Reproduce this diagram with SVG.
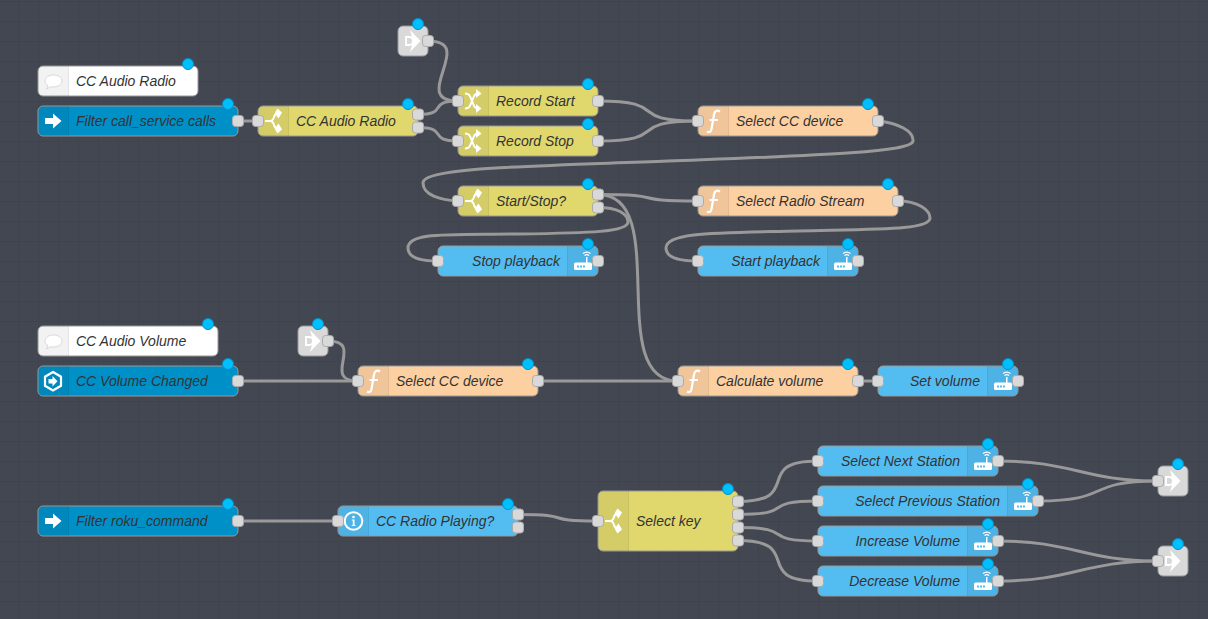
<svg xmlns="http://www.w3.org/2000/svg" width="1208" height="619" viewBox="0 0 1208 619">
<style>
.bg{fill:#434752}
.w{fill:none;stroke:#999;stroke-width:3}
.n{stroke:#999;stroke-width:1}
.c{fill:#fff}.inj{fill:#0090c8}.sw{fill:#e0d76d}.fn{fill:#fdd0a2}.sv{fill:#53bdf1}.lk{fill:#d9d9d9}
.sh{fill:#000;fill-opacity:.05}
.sep{stroke:#000;stroke-opacity:.1;stroke-width:1;fill:none}
.p{fill:#d9d9d9;stroke:#aaa;stroke-width:1}
.d{fill:#00bfff;stroke:#0090c8;stroke-width:1}
.t{font-family:"Liberation Sans",Arial,sans-serif;font-size:14px;font-style:italic;fill:#333}
.e{text-anchor:end}
.i{fill:#fff}
.is{fill:none;stroke:#fff;stroke-width:2}
</style>
<defs>
<pattern id="grid" width="20" height="20" patternUnits="userSpaceOnUse" x="18" y="1">
<path d="M0 .5H20M.5 0V20" fill="none" stroke="#3f434d" stroke-width="1"/>
</pattern>
<rect id="port" class="p" x="-5.500" y="-5.500" width="11" height="11" rx="3"/>
<circle id="dot" class="d" r="5.500"/>
<g id="ic-inj"><path class="i" d="M7 12h8V7.500l8.500 7.500-8.500 7.500V18H7z"/></g>
<g id="ic-cm"><path d="M7 15c0-3.500 4-6 8.500-6S24 11.500 24 15s-4 6-8.500 6c-1 0-2 0-2.800-.3L8.500 23l1.500-3.500C8 18.500 7 17 7 15z" fill="#fff" stroke="#d8d8d8" stroke-width="1"/></g>
<g id="ic-sw"><path class="is" d="M7 15h5c2.500 0 3.500-2 4-4s1.500-3.500 4-4M12 15c2.500 0 3.500 2 4 4s1.500 3.500 4 4" stroke-width="2.400"/><path class="i" d="M19.500 2.500l4.500 4-3.500 6-2-2.500-1.500-3.500zM19.500 27.500l4.500-4-3.500-6-2 2.500-1.500 3.500z"/></g>
<g id="ic-ch"><path class="is" d="M7 7.500c5 0 5 3 7 7.500s2 7.500 6 7.500M7 22.500c5 0 5-3 7-7.500s2-7.500 6-7.500" stroke-width="3"/><path class="i" d="M18 3l5.500 4.500L18 12zM18 18l5.500 4.500L18 27z"/></g>
<g id="ic-fn"><path d="M22 5.500c-3-1.800-5.500-.5-6 3l-2.500 14.500c-.5 3-2.500 3.800-4.500 2.500M11.500 14h8.500" fill="none" stroke="#fff" stroke-width="2.200"/></g>
<g id="ic-sv"><rect class="i" x="6" y="16.500" width="18" height="7.500" rx="1.500"/><rect class="i" x="18" y="11" width="1.500" height="6"/><path d="M9 19.500h2v2H9zM12 19.500h2v2h-2zM15 19.500h2v2h-2z" fill="#53bdf1"/><path d="M16.500 9.500q2.300-1.800 4.500 0M15 7.500q3.700-2.800 7.500 0" fill="none" stroke="#fff" stroke-width="1.200"/></g>
<g id="ic-lk"><path class="i" d="M12 4L22.500 15 12 26 14 19 14 11z"/><path d="M8 11h3c2.500 0 4 1.800 4 4s-1.500 4-4 4H8z" fill="#d9d9d9" stroke="#fff" stroke-width="1.800"/></g>
<g id="ic-in"><circle cx="15.500" cy="15" r="8.800" fill="none" stroke="#fff" stroke-width="2"/><circle cx="15.500" cy="11" r="1.300" class="i"/><path class="i" d="M13.800 13.500h2.700v5.500h1v1h-3.700v-1h1v-4.500h-1z"/></g>
<g id="ic-hex"><path d="M15 6l8 4.700v9.100l-8 4.700-8-4.700v-9.100z" fill="none" stroke="#fff" stroke-width="2.200"/><path class="i" d="M10.500 13h4v-3l5 5.200-5 5.200v-3h-4z"/></g>
</defs>
<rect class="bg" width="1208" height="619"/>
<rect fill="url(#grid)" width="1208" height="619"/>
<g id="connectors">
<path class="w" d="M238 121H258"/>
<path class="w" d="M418 114.500C449.500 114.500 426.500 101 458 101"/>
<path class="w" d="M418 127.500C449.500 127.500 426.500 141 458 141"/>
<path class="w" d="M428 41C478 41 408 101 458 101"/>
<path class="w" d="M598 101C673 101 623 121 698 121"/>
<path class="w" d="M598 141C673 141 623 121 698 121"/>
<path class="w" d="M878 121C898 123 914 131 913 141C912 153 800 156 668 161C540 166 423 167 423 183C423 195 440 200 458 201"/>
<path class="w" d="M598 194.500C673 194.500 623 201 698 201"/>
<path class="w" d="M598 194.500C673 194.500 603 381 678 381"/>
<path class="w" d="M598 207.500C618 207.500 628 214 628 222C628 232 590 233 518 234C446 235 408 232 408 248C408 257 420 261 438 261"/>
<path class="w" d="M898 201C918 201 930 210 930 218C930 230 880 229 798 231C716 233 666 232 666 248C666 257 678 261 698 261"/>
<path class="w" d="M238 381H358"/>
<path class="w" d="M328 341C365.500 341 320.500 381 358 381"/>
<path class="w" d="M538 381H678"/>
<path class="w" d="M858 381H878"/>
<path class="w" d="M238 521H338"/>
<path class="w" d="M518 514.500C578 514.500 538 521 598 521"/>
<path class="w" d="M738 501.500C805 501.500 751 461 818 461"/>
<path class="w" d="M738 514.500C799 514.500 757 501 818 501"/>
<path class="w" d="M738 527.500C799 527.500 757 541 818 541"/>
<path class="w" d="M738 540.500C805 540.500 751 581 818 581"/>
<path class="w" d="M998 461C1073 461 1083 481 1158 481"/>
<path class="w" d="M1038 501C1113 501 1083 481 1158 481"/>
<path class="w" d="M998 541C1073 541 1083 561 1158 561"/>
<path class="w" d="M998 581C1073 581 1083 561 1158 561"/>
</g>
<g id="nodes">
<g id="comment-radio" transform="translate(38 66)"><rect class="n c" width="160" height="30" rx="5"/><path class="sh" d="M5 0H30V30H5A5 5 0 0 1 0 25V5A5 5 0 0 1 5 0Z"/><path class="sep" d="M30.500 0V30"/><use href="#ic-cm"/><text class="t" x="38" y="20">CC Audio Radio</text><use href="#dot" x="150" y="-2"/></g>
<g id="filter-call" transform="translate(38 106)"><rect class="n inj" width="200" height="30" rx="5"/><path class="sh" d="M5 0H30V30H5A5 5 0 0 1 0 25V5A5 5 0 0 1 5 0Z"/><path class="sep" d="M30.500 0V30"/><use href="#ic-inj"/><text class="t" x="38" y="20">Filter call_service calls</text><use href="#port" x="200" y="15"/><use href="#dot" x="190" y="-2"/></g>
<g id="switch-radio" transform="translate(258 106)"><rect class="n sw" width="160" height="30" rx="5"/><path class="sh" d="M5 0H30V30H5A5 5 0 0 1 0 25V5A5 5 0 0 1 5 0Z"/><path class="sep" d="M30.500 0V30"/><use href="#ic-sw"/><text class="t" x="38" y="20">CC Audio Radio</text><use href="#port" x="0" y="15"/><use href="#port" x="160" y="8.500"/><use href="#port" x="160" y="21.500"/><use href="#dot" x="150" y="-2"/></g>
<g id="link-top" transform="translate(398 26)"><rect class="n lk" width="30" height="30" rx="5"/><use href="#ic-lk"/><use href="#port" x="30" y="15"/><use href="#dot" x="20" y="-2"/></g>
<g id="record-start" transform="translate(458 86)"><rect class="n sw" width="140" height="30" rx="5"/><path class="sh" d="M5 0H30V30H5A5 5 0 0 1 0 25V5A5 5 0 0 1 5 0Z"/><path class="sep" d="M30.500 0V30"/><use href="#ic-ch"/><text class="t" x="38" y="20">Record Start</text><use href="#port" x="0" y="15"/><use href="#port" x="140" y="15"/><use href="#dot" x="130" y="-2"/></g>
<g id="record-stop" transform="translate(458 126)"><rect class="n sw" width="140" height="30" rx="5"/><path class="sh" d="M5 0H30V30H5A5 5 0 0 1 0 25V5A5 5 0 0 1 5 0Z"/><path class="sep" d="M30.500 0V30"/><use href="#ic-ch"/><text class="t" x="38" y="20">Record Stop</text><use href="#port" x="0" y="15"/><use href="#port" x="140" y="15"/><use href="#dot" x="130" y="-2"/></g>
<g id="select-cc-1" transform="translate(698 106)"><rect class="n fn" width="180" height="30" rx="5"/><path class="sh" d="M5 0H30V30H5A5 5 0 0 1 0 25V5A5 5 0 0 1 5 0Z"/><path class="sep" d="M30.500 0V30"/><use href="#ic-fn"/><text class="t" x="38" y="20">Select CC device</text><use href="#port" x="0" y="15"/><use href="#port" x="180" y="15"/><use href="#dot" x="170" y="-2"/></g>
<g id="start-stop" transform="translate(458 186)"><rect class="n sw" width="140" height="30" rx="5"/><path class="sh" d="M5 0H30V30H5A5 5 0 0 1 0 25V5A5 5 0 0 1 5 0Z"/><path class="sep" d="M30.500 0V30"/><use href="#ic-sw"/><text class="t" x="38" y="20">Start/Stop?</text><use href="#port" x="0" y="15"/><use href="#port" x="140" y="8.500"/><use href="#port" x="140" y="21.500"/><use href="#dot" x="130" y="-2"/></g>
<g id="select-stream" transform="translate(698 186)"><rect class="n fn" width="200" height="30" rx="5"/><path class="sh" d="M5 0H30V30H5A5 5 0 0 1 0 25V5A5 5 0 0 1 5 0Z"/><path class="sep" d="M30.500 0V30"/><use href="#ic-fn"/><text class="t" x="38" y="20">Select Radio Stream</text><use href="#port" x="0" y="15"/><use href="#port" x="200" y="15"/><use href="#dot" x="190" y="-2"/></g>
<g id="stop-playback" transform="translate(438 246)"><rect class="n sv" width="160" height="30" rx="5"/><path class="sh" d="M130 0H155A5 5 0 0 1 160 5V25A5 5 0 0 1 155 30H130Z"/><path class="sep" d="M129.500 0V30"/><use href="#ic-sv" x="130"/><text class="t e" x="122" y="20">Stop playback</text><use href="#port" x="0" y="15"/><use href="#port" x="160" y="15"/><use href="#dot" x="150" y="-2"/></g>
<g id="start-playback" transform="translate(698 246)"><rect class="n sv" width="160" height="30" rx="5"/><path class="sh" d="M130 0H155A5 5 0 0 1 160 5V25A5 5 0 0 1 155 30H130Z"/><path class="sep" d="M129.500 0V30"/><use href="#ic-sv" x="130"/><text class="t e" x="122" y="20">Start playback</text><use href="#port" x="0" y="15"/><use href="#port" x="160" y="15"/><use href="#dot" x="150" y="-2"/></g>
<g id="comment-volume" transform="translate(38 326)"><rect class="n c" width="180" height="30" rx="5"/><path class="sh" d="M5 0H30V30H5A5 5 0 0 1 0 25V5A5 5 0 0 1 5 0Z"/><path class="sep" d="M30.500 0V30"/><use href="#ic-cm"/><text class="t" x="38" y="20">CC Audio Volume</text><use href="#dot" x="170" y="-2"/></g>
<g id="volume-changed" transform="translate(38 366)"><rect class="n inj" width="200" height="30" rx="5"/><path class="sh" d="M5 0H30V30H5A5 5 0 0 1 0 25V5A5 5 0 0 1 5 0Z"/><path class="sep" d="M30.500 0V30"/><use href="#ic-hex"/><text class="t" x="38" y="20">CC Volume Changed</text><use href="#port" x="200" y="15"/><use href="#dot" x="190" y="-2"/></g>
<g id="link-volume" transform="translate(298 326)"><rect class="n lk" width="30" height="30" rx="5"/><use href="#ic-lk"/><use href="#port" x="30" y="15"/><use href="#dot" x="20" y="-2"/></g>
<g id="select-cc-2" transform="translate(358 366)"><rect class="n fn" width="180" height="30" rx="5"/><path class="sh" d="M5 0H30V30H5A5 5 0 0 1 0 25V5A5 5 0 0 1 5 0Z"/><path class="sep" d="M30.500 0V30"/><use href="#ic-fn"/><text class="t" x="38" y="20">Select CC device</text><use href="#port" x="0" y="15"/><use href="#port" x="180" y="15"/><use href="#dot" x="170" y="-2"/></g>
<g id="calculate-volume" transform="translate(678 366)"><rect class="n fn" width="180" height="30" rx="5"/><path class="sh" d="M5 0H30V30H5A5 5 0 0 1 0 25V5A5 5 0 0 1 5 0Z"/><path class="sep" d="M30.500 0V30"/><use href="#ic-fn"/><text class="t" x="38" y="20">Calculate volume</text><use href="#port" x="0" y="15"/><use href="#port" x="180" y="15"/><use href="#dot" x="170" y="-2"/></g>
<g id="set-volume" transform="translate(878 366)"><rect class="n sv" width="140" height="30" rx="5"/><path class="sh" d="M110 0H135A5 5 0 0 1 140 5V25A5 5 0 0 1 135 30H110Z"/><path class="sep" d="M109.500 0V30"/><use href="#ic-sv" x="110"/><text class="t e" x="102" y="20">Set volume</text><use href="#port" x="0" y="15"/><use href="#port" x="140" y="15"/><use href="#dot" x="130" y="-2"/></g>
<g id="filter-roku" transform="translate(38 506)"><rect class="n inj" width="200" height="30" rx="5"/><path class="sh" d="M5 0H30V30H5A5 5 0 0 1 0 25V5A5 5 0 0 1 5 0Z"/><path class="sep" d="M30.500 0V30"/><use href="#ic-inj"/><text class="t" x="38" y="20">Filter roku_command</text><use href="#port" x="200" y="15"/><use href="#dot" x="190" y="-2"/></g>
<g id="radio-playing" transform="translate(338 506)"><rect class="n sv" width="180" height="30" rx="5"/><path class="sh" d="M5 0H30V30H5A5 5 0 0 1 0 25V5A5 5 0 0 1 5 0Z"/><path class="sep" d="M30.500 0V30"/><use href="#ic-in"/><text class="t" x="38" y="20">CC Radio Playing?</text><use href="#port" x="0" y="15"/><use href="#port" x="180" y="8.500"/><use href="#port" x="180" y="21.500"/><use href="#dot" x="170" y="-2"/></g>
<g id="select-key" transform="translate(598 491)"><rect class="n sw" width="140" height="60" rx="5"/><path class="sh" d="M5 0H30V60H5A5 5 0 0 1 0 55V5A5 5 0 0 1 5 0Z"/><path class="sep" d="M30.500 0V60"/><use href="#ic-sw" y="15"/><text class="t" x="38" y="35">Select key</text><use href="#port" x="0" y="30"/><use href="#port" x="140" y="10.500"/><use href="#port" x="140" y="23.500"/><use href="#port" x="140" y="36.500"/><use href="#port" x="140" y="49.500"/><use href="#dot" x="130" y="-2"/></g>
<g id="select-next" transform="translate(818 446)"><rect class="n sv" width="180" height="30" rx="5"/><path class="sh" d="M150 0H175A5 5 0 0 1 180 5V25A5 5 0 0 1 175 30H150Z"/><path class="sep" d="M149.500 0V30"/><use href="#ic-sv" x="150"/><text class="t e" x="142" y="20">Select Next Station</text><use href="#port" x="0" y="15"/><use href="#port" x="180" y="15"/><use href="#dot" x="170" y="-2"/></g>
<g id="select-previous" transform="translate(818 486)"><rect class="n sv" width="220" height="30" rx="5"/><path class="sh" d="M190 0H215A5 5 0 0 1 220 5V25A5 5 0 0 1 215 30H190Z"/><path class="sep" d="M189.500 0V30"/><use href="#ic-sv" x="190"/><text class="t e" x="182" y="20">Select Previous Station</text><use href="#port" x="0" y="15"/><use href="#port" x="220" y="15"/><use href="#dot" x="210" y="-2"/></g>
<g id="increase-volume" transform="translate(818 526)"><rect class="n sv" width="180" height="30" rx="5"/><path class="sh" d="M150 0H175A5 5 0 0 1 180 5V25A5 5 0 0 1 175 30H150Z"/><path class="sep" d="M149.500 0V30"/><use href="#ic-sv" x="150"/><text class="t e" x="142" y="20">Increase Volume</text><use href="#port" x="0" y="15"/><use href="#port" x="180" y="15"/><use href="#dot" x="170" y="-2"/></g>
<g id="decrease-volume" transform="translate(818 566)"><rect class="n sv" width="180" height="30" rx="5"/><path class="sh" d="M150 0H175A5 5 0 0 1 180 5V25A5 5 0 0 1 175 30H150Z"/><path class="sep" d="M149.500 0V30"/><use href="#ic-sv" x="150"/><text class="t e" x="142" y="20">Decrease Volume</text><use href="#port" x="0" y="15"/><use href="#port" x="180" y="15"/><use href="#dot" x="170" y="-2"/></g>
<g id="link-out-1" transform="translate(1158 466)"><rect class="n lk" width="30" height="30" rx="5"/><use href="#ic-lk"/><use href="#port" x="0" y="15"/><use href="#dot" x="20" y="-2"/></g>
<g id="link-out-2" transform="translate(1158 546)"><rect class="n lk" width="30" height="30" rx="5"/><use href="#ic-lk"/><use href="#port" x="0" y="15"/><use href="#dot" x="20" y="-2"/></g>
</g>
</svg>
